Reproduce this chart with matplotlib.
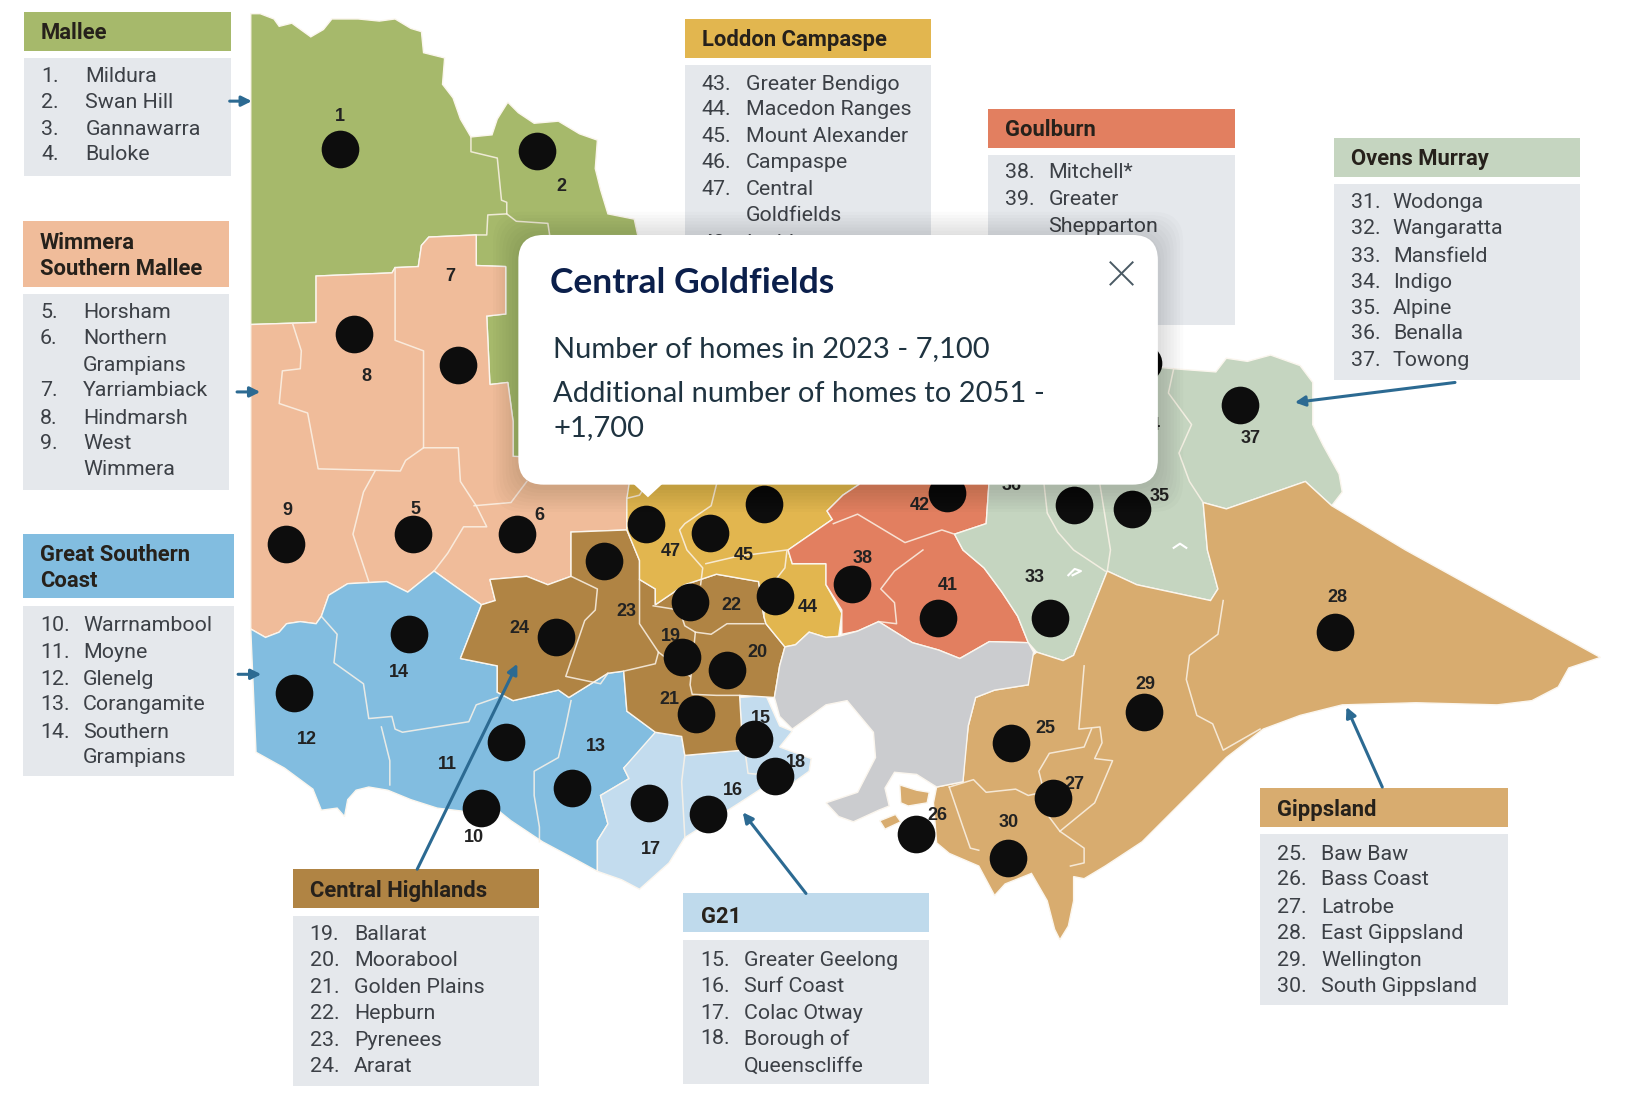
"""Victorian regions map with the Central Goldfields popup over it."""
import matplotlib
matplotlib.use('Agg')
import matplotlib.pyplot as plt
from matplotlib.patches import Polygon, Rectangle, FancyBboxPatch

# outlines (x, y with y going down)
mallee_shape = [(238,13),(247,13),(260,18),(265,25),(277,22),(295,35),(307,28),(315,18),(340,18),(360,20),(375,18),(390,27),(400,30),(402,50),(422,55),(420,80),(430,93),(437,113),(447,130),(467,128),(472,113),(482,97),(492,107),(507,117),(530,115),(550,127),(567,133),(565,160),(570,180),(577,203),(602,208),(605,222),(640,300),(640,440),(487,440),(487,400),(482,363),(465,365),(462,300),(480,298),(480,253),(452,252),(452,223),(407,225),(400,233),(397,253),(375,254),(372,259),(300,262),(300,306),(238,308)]
wimmera_shape = [(238,308),(300,306),(300,262),(372,259),(375,254),(397,253),(400,233),(407,225),(452,223),(452,252),(480,253),(480,298),(462,300),(465,365),(482,363),(487,400),(487,433),(600,440),(600,460),(595,473),(595,503),(542,505),(542,547),(520,555),(500,547),(465,550),(470,570),(457,574),(430,555),(412,542),(387,562),(367,552),(330,554),(312,565),(305,585),(300,592),(285,590),(272,592),(265,600),(252,605),(238,597)]
southern_shape = [(238,597),(252,605),(265,600),(272,592),(285,590),(300,592),(305,585),(312,565),(330,554),(367,552),(387,562),(412,542),(430,555),(457,574),(437,625),(472,632),(472,657),(487,665),(530,655),(540,662),(577,639),(592,637),(595,675),(622,695),(620,702),(592,729),(597,739),(570,755),(577,782),(567,798),(567,827),(545,815),(515,799),(485,779),(470,767),(440,770),(415,767),(390,759),(368,750),(350,747),(338,750),(330,759),(327,775),(320,767),(305,769),(297,749),(270,729),(243,714)]
g21_shape = [(622,695),(647,699),(650,717),(705,712),(702,662),(727,660),(740,689),(752,694),(740,709),(770,720),(768,732),(750,745),(722,749),(702,762),(650,795),(635,819),(607,844),(590,835),(567,827),(567,798),(577,782),(570,755),(597,739),(592,729)]
highlands_shape = [(542,505),(595,503),(607,532),(607,550),(622,559),(622,574),(650,555),(680,545),(720,552),(725,585),(727,592),(745,614),(740,632),(735,662),(702,660),(705,712),(650,717),(647,699),(622,695),(595,675),(592,637),(577,639),(540,662),(530,655),(487,665),(472,657),(472,632),(437,625),(457,574),(470,570),(465,550),(500,547),(520,555),(542,547)]
loddon_shape = [(600,440),(830,440),(815,460),(800,470),(785,485),(790,493),(748,522),(752,535),(784,535),(784,555),(799,582),(796,604),(784,605),(768,600),(755,612),(745,614),(727,592),(725,585),(720,552),(680,545),(650,555),(622,574),(622,559),(607,550),(607,532),(595,503),(595,473)]
goulburn_shape = [(830,440),(940,440),(936,497),(906,507),(914,522),(934,539),(951,562),(966,585),(976,610),(939,609),(911,625),(891,617),(866,610),(834,590),(814,599),(799,602),(799,579),(784,555),(784,535),(752,535),(748,522),(790,493),(785,485),(800,470),(815,460)]
ovens_shape = [(1060,345),(1114,350),(1154,353),(1164,340),(1184,343),(1206,337),(1234,347),(1246,363),(1246,403),(1256,423),(1271,450),(1274,467),(1264,480),(1239,457),(1164,483),(1142,477),(1146,522),(1156,559),(1149,570),(1079,555),(1051,542),(1019,622),(1009,627),(984,619),(976,610),(966,585),(951,562),(934,539),(914,522),(906,507),(936,497),(940,440),(1060,440)]
gippsland_shape = [(1142,477),(1164,483),(1239,457),(1264,480),(1334,522),(1519,624),(1489,634),(1479,652),(1454,665),(1421,669),(1344,667),(1274,669),(1234,679),(1199,692),(1164,719),(1124,759),(1084,799),(1049,822),(1029,834),(1019,832),(1019,855),(1014,879),(1006,892),(1001,882),(994,855),(979,829),(954,839),(944,850),(929,822),(901,810),(889,800),(886,762),(889,747),(914,742),(916,715),(919,689),(926,662),(944,655),(976,650),(976,625),(984,619),(1009,627),(1019,622),(1051,542),(1079,555),(1149,570),(1156,559),(1146,522)]
island_a = [(854,745),(870,750),(882,752),(880,762),(862,765),(855,762)]
island_b = [(835,779),(850,773),(855,780),(840,787)]
melbourne_shape = [(745,614),(755,612),(768,600),(784,605),(796,604),(814,599),(834,590),(866,610),(891,617),(911,625),(939,609),(976,610),(981,619),(976,650),(944,655),(926,662),(919,689),(914,742),(889,747),(870,735),(849,733),(840,748),(844,765),(834,769),(810,780),(796,775),(784,762),(814,752),(831,719),(829,695),(804,665),(784,669),(752,692),(740,680),(735,662),(740,632)]

# boundaries between councils inside each region
inner_lines = [
    [(447,130),(447,144),(472,150),(476,190),(481,192),(481,203),(463,204),(462,223),(452,223)],
    [(481,203),(490,210),(520,212),(522,225)],
    [(278,308),(286,333),(285,350),(268,352),(265,383),(292,392),(302,445),(380,447),(385,437),(402,425),(402,333),(375,323),(375,254)],
    [(356,447),(345,467),(335,507),(350,552)],
    [(402,425),(435,425),(437,457),(452,480),(462,500),(440,500),(425,525),(412,542)],
    [(450,480),(485,477),(500,457)],
    [(305,585),(320,602),(317,629),(345,649),(350,682),(372,680),(375,692),(382,695),(445,685),(452,669),(472,662)],
    [(362,690),(370,722),(370,745)],
    [(542,665),(537,689),(530,719),(507,732),(507,755),(512,785),(512,799)],
    [(650,717),(647,742),(650,794)],
    [(707,712),(710,734),(720,735)],
    [(542,547),(567,559),(565,579),(555,589),(537,642),(570,649),(577,639)],
    [(607,550),(607,592),(625,619),(622,630),(592,637)],
    [(620,575),(645,579),(650,594),(660,600),(655,650),(657,659),(680,660),(702,660)],
    [(660,600),(675,602),(690,592),(725,592)],
    [(625,619),(655,642)],
    [(595,473),(607,470),(612,462)],
    [(680,460),(675,480),(650,497),(645,503),(652,522),(667,539),(665,555)],
    [(670,535),(700,528),(747,522),(745,539),(727,562),(725,585)],
    [(791,497),(814,488),(834,500),(859,515),(894,503),(906,507)],
    [(876,522),(849,542),(836,559),(849,572),(851,592),(834,590)],
    [(1114,350),(1109,373),(1131,403),(1119,430),(1129,457),(1142,477)],
    [(991,460),(994,487),(1004,505),(1019,522),(1049,542)],
    [(1044,460),(1054,522),(1051,542)],
    [(1161,570),(1156,602),(1129,622),(1126,645),(1136,679),(1151,687),(1161,712),(1196,692)],
    [(1029,632),(1024,692),(1044,690),(1046,705),(1039,720),(1056,722),(1039,762),(1006,789),(1029,805),(1029,819),(1016,822)],
    [(1036,692),(1029,709),(996,715),(986,732),(991,752),(991,769),(1006,789)],
    [(901,747),(924,740),(936,752),(964,749),(976,755),(989,752)],
    [(901,747),(914,785),(921,805),(929,807)],
]
lake_lines = [[(1014,546),(1020,540),(1026,542),(1018,546)], [(1114,520),(1120,516),(1126,520)]]

# council numbers and marker positions
label_nums = ['1','2','7','8','9','5','6','47','45','42','38','41','33','35','36','34','37','28','29','23','22','44','24','19','20','21','14','12','15','18','13','11','10','17','16','25','27','26','30']
label_x = [323,533,427,348,273,394,512,637,706,873,819,900,982,1101,960,1092,1187,1269,1087,595,694,767,493,637,719,635,379,291,722,755,566,425,450,618,696,992,1020,890,957]
label_y = [111,177,262,357,485,484,489,523,527,480,530,556,548,471,461,404,416,567,650,580,575,577,597,604,619,664,638,702,682,724,709,726,795,806,750,691,745,774,781]
dot_x = [323,510,336,435,271,392,491,613,674,725,899,1019,1074,573,655,736,809,890,997,1267,528,388,279,647,690,661,1086,716,960,480,736,543,457,616,672,999,869,957,1177,1085]
dot_y = [141,143,317,346,516,507,507,497,506,478,468,479,483,532,571,566,554,587,587,600,605,602,658,624,636,678,676,701,705,704,737,748,767,762,773,757,792,814,384,345]

# legend panels
panel_names = [['Mallee'], ['Wimmera','Southern Mallee'], ['Great Southern','Coast'], ['Central Highlands'], ['G21'], ['Gippsland'], ['Ovens Murray'], ['Goulburn'], ['Loddon Campaspe']]
panel_colors = ['#A6B96B','#F0BC9A','#82BDE0','#B08444','#BFDAEC','#D8AC6F','#C5D5C0','#E27F60','#E2B64F']
panel_left = [23,22,22,278,648,1196,1266,938,650]
panel_right = [219,217,222,512,882,1431,1500,1172,884]
head_top = [11,210,507,825,848,748,131,103,18]
head_bottom = [48,272,568,862,885,785,168,140,55]
body_top = [55,279,575,869,892,792,175,147,62]
body_bottom = [167,465,737,1031,1029,954,361,308,225]
head_text_y = [[31],[231,255],[527,551],[846],[870],[769],[151],[123],[38]]
head_text_x = [39,38,38,294,665,1212,1282,954,666]
num_x = [39,38,38,294,665,1212,1282,954,666]
name_x = [81,79,79,336,706,1254,1322,995,708]
item_nums = [
    ['1.','2.','3.','4.'],
    ['5.','6.','','7.','8.','9.',''],
    ['10.','11.','12.','13.','14.',''],
    ['19.','20.','21.','22.','23.','24.'],
    ['15.','16.','17.','18.',''],
    ['25.','26.','27.','28.','29.','30.'],
    ['31.','32.','33.','34.','35.','36.','37.'],
    ['38.','39.',''],
    ['43.','44.','45.','46.','47.','','48.'],
]
item_names = [
    ['Mildura','Swan Hill','Gannawarra','Buloke'],
    ['Horsham','Northern','Grampians','Yarriambiack','Hindmarsh','West','Wimmera'],
    ['Warrnambool','Moyne','Glenelg','Corangamite','Southern','Grampians'],
    ['Ballarat','Moorabool','Golden Plains','Hepburn','Pyrenees','Ararat'],
    ['Greater Geelong','Surf Coast','Colac Otway','Borough of','Queenscliffe'],
    ['Baw Baw','Bass Coast','Latrobe','East Gippsland','Wellington','South Gippsland'],
    ['Wodonga','Wangaratta','Mansfield','Indigo','Alpine','Benalla','Towong'],
    ['Mitchell*','Greater','Shepparton'],
    ['Greater Bendigo','Macedon Ranges','Mount Alexander','Campaspe','Central','Goldfields','Loddon'],
]
item_y = [
    [73,97,123,147],
    [297,321,347,371,397,421,446],
    [594,619,645,669,695,719],
    [887,912,937,962,988,1012],
    [912,936,962,986,1012],
    [811,835,861,886,912,936],
    [192,217,243,268,293,317,342],
    [164,189,215],
    [80,104,130,154,180,205,231],
]

# arrows: tail then head
arrow_tails = [(218,96),(225,372),(226,640),(1381,363),(1312,747),(765,848),(396,825)]
arrow_heads = [(239,96),(247,372),(248,640),(1229,382),(1278,671),(705,771),(491,630)]

popup_title = 'Central Goldfields'
popup_lines = ['Number of homes in 2023 - 7,100', 'Additional number of homes to 2051 -', '+1,700']
popup_line_y = [331,374,406]

fig = plt.figure(figsize=(16.52, 11.01), dpi=100)
ax = fig.add_axes([0, 0, 1, 1])
ax.set_xlim(0, 1568)
ax.set_ylim(1045, 0)
ax.axis('off')

# map
for shape, color in [(mallee_shape,'#A6B96B'), (wimmera_shape,'#F0BC9A'), (southern_shape,'#82BDE0'),
                     (g21_shape,'#C3DCEE'), (highlands_shape,'#B08444'), (loddon_shape,'#E2B64F'),
                     (goulburn_shape,'#E27F60'), (ovens_shape,'#C5D5C0'), (gippsland_shape,'#D8AC6F'),
                     (island_a,'#D8AC6F'), (island_b,'#D8AC6F'), (melbourne_shape,'#CBCCCF')]:
    ax.add_patch(Polygon(shape, closed=True, facecolor=color, edgecolor='#FBF6EE', linewidth=1.0, zorder=2))
for line in inner_lines:
    ax.plot([p[0] for p in line], [p[1] for p in line], color='#FBF3E8', lw=1.1, alpha=0.85, zorder=3)
for line in lake_lines:
    ax.plot([p[0] for p in line], [p[1] for p in line], color='white', lw=1.5, zorder=3)

# council numbers sit under the markers
for num, x, y in zip(label_nums, label_x, label_y):
    ax.text(x, y, num, ha='center', va='center', fontsize=13, fontweight='bold',
            family='Liberation Sans', color='#222222', zorder=4)
ax.scatter(dot_x, dot_y, s=735, color='#0D0D0D', linewidths=0, zorder=5)

# panels
for i in range(len(panel_names)):
    left, right = panel_left[i], panel_right[i]
    ax.add_patch(Rectangle((left, head_top[i]), right - left, head_bottom[i] - head_top[i],
                           facecolor=panel_colors[i], edgecolor='none', zorder=2))
    ax.add_patch(Rectangle((left, body_top[i]), right - left, body_bottom[i] - body_top[i],
                           facecolor='#E5E8EC', edgecolor='none', zorder=2))
    for name, y in zip(panel_names[i], head_text_y[i]):
        ax.text(head_text_x[i], y, name, va='center', fontsize=15.8, fontweight='bold',
                family='Roboto', color='#26211B', zorder=3)
    for num, name, y in zip(item_nums[i], item_names[i], item_y[i]):
        ax.text(num_x[i], y, num, va='center', fontsize=15.4, family='Roboto', color='#3C4046', zorder=3)
        ax.text(name_x[i], y, name, va='center', fontsize=15.4, family='Roboto', color='#3C4046', zorder=3)

# arrows
for tail, head in zip(arrow_tails, arrow_heads):
    ax.annotate('', xy=head, xytext=tail, zorder=4,
                arrowprops=dict(arrowstyle='-|>', color='#2C6A92', lw=2.2, mutation_scale=15,
                                shrinkA=0, shrinkB=0))

# popup shadow, then card
for grow in [24,21,18,15,12,9,6,3]:
    ax.add_patch(FancyBboxPatch((492 - grow, 223 - grow + 2), 607 + 2 * grow, 237 + 2 * grow,
                                boxstyle='round,pad=0,rounding_size=28', facecolor='black',
                                edgecolor='none', alpha=0.016, zorder=8))
ax.add_patch(FancyBboxPatch((492, 223), 607, 237, boxstyle='round,pad=0,rounding_size=24',
                            facecolor='white', edgecolor='none', zorder=9))
ax.add_patch(Polygon([(601,459),(629,459),(615,472)], closed=True, facecolor='white', edgecolor='none', zorder=9))
ax.text(522, 269, popup_title, va='center', fontsize=25.5, fontweight='bold', family='Lato',
        color='#0B1F4B', zorder=10)
for line, y in zip(popup_lines, popup_line_y):
    ax.text(525, y, line, va='center', fontsize=21, family='Lato', color='#1F3340', zorder=10)
ax.plot([1054,1075], [249,270], color='#4A5A64', lw=1.4, zorder=10)
ax.plot([1054,1075], [270,249], color='#4A5A64', lw=1.4, zorder=10)

fig.savefig('out.png', dpi=100)
print('Saved plot to out.png')
